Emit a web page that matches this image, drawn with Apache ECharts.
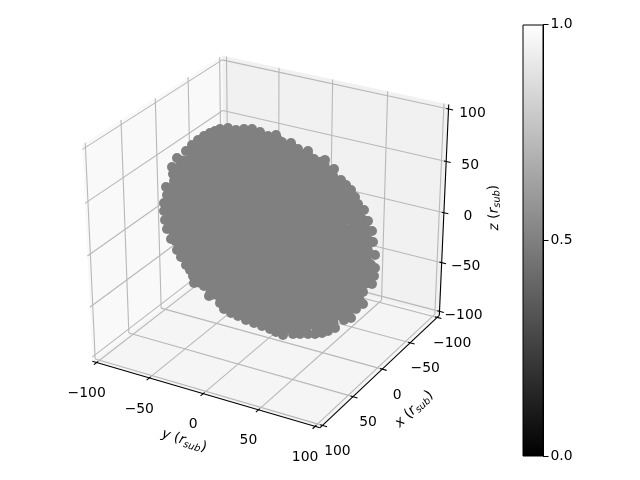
<!DOCTYPE html>
<html>
<head>
<meta charset="utf-8">
<style>
  html, body { margin: 0; padding: 0; background: #fff; }
  #chart { width: 640px; height: 480px; }
</style>
<script src="https://cdn.jsdelivr.net/npm/echarts@6/dist/echarts.min.js"></script>
</head>
<body>
<div id="chart"></div>
<script>
const tickValues = [-100, -50, 0, 50, 100];
const colorbarTicks = [0, 0.5, 1];

// silhouette of the point cloud in the view plane [u, v]
const rimPoints = [
  [-49,105],[-41,106],[-33,104],[-25,105],[-17,105],[-9,102],[-1,98],[7,99],[13,92],[22,91],
  [29,85],[39,83],[45,75],[56,74],[65,65],[72,54],[77,49],[82,44],[86,37],[89,30],
  [95,24],[99,13],[103,3],[104,-8],[106,-21],[106,-34],[105,-42],[103,-50],[94,-58],[94,-70],
  [87,-75],[82,-84],[75,-86],[66,-94],[59,-97],[53,-99],[46,-100],[39,-100],[31,-100],[24,-100],
  [14,-101],[7,-98],[1,-95],[-7,-92],[-15,-89],[-23,-86],[-31,-82],[-38,-79],[-45,-75],[-49,-69],
  [-60,-62],[-65,-52],[-75,-49],[-76,-42],[-79,-36],[-83,-31],[-88,-23],[-92,-16],[-98,-5],[-102,5],
  [-104,14],[-105,23],[-105,31],[-102,39],[-103,47],[-95,53],[-96,60],[-97,67],[-92,76],[-83,83],
  [-77,89],[-71,94],[-65,98],[-59,101],[-54,103]
];

// just inside the silhouette
const outerBandPoints = [
  [-39,100],[-24,99],[-8,96],[7,93],[21,86],[37,78],[53,70],[68,51],[77,41],[84,28],
  [93,12],[98,-8],[100,-32],[97,-47],[88,-66],[77,-79],[62,-88],[50,-93],[29,-94],[13,-95],
  [1,-89],[-14,-84],[-29,-77],[-42,-71],[-56,-58],[-70,-46],[-74,-34],[-83,-22],[-92,-5],[-98,13],
  [-99,29],[-97,44],[-90,56],[-86,71],[-72,84],[-61,92],[-51,97]
];

// next band in
const bandPoints = [
  [-43,91],[-29,90],[-15,91],[-1,85],[11,80],[25,74],[39,65],[57,57],[67,43],[75,32],
  [83,21],[90,3],[92,-18],[91,-37],[82,-50],[76,-65],[65,-75],[51,-84],[34,-87],[21,-87],
  [6,-85],[-6,-80],[-20,-75],[-33,-69],[-43,-60],[-57,-45],[-66,-37],[-72,-27],[-80,-14],[-89,4],
  [-91,20],[-89,34],[-83,46],[-84,58],[-72,72],[-62,82],[-51,88]
];

// inside of the cloud, row by row
const coreRowV = [72, 54, 36, 18, 0, -18, -36, -54, -72];
const coreRowU = [
  [-51,-33,-15,3],
  [-69,-51,-33,-15,3,21,39],
  [-75,-57,-39,-21,-3,15,33,51,57],
  [-77,-59,-41,-23,-5,13,31,49,67],
  [-75,-57,-39,-21,-3,15,33,51,69],
  [-65,-47,-29,-11,7,25,43,61,79],
  [-54,-36,-18,0,18,36,54,72],
  [-41,-23,-5,13,31,49,67],
  [-20,-2,16,34,52]
];

const fontFamily = '"DejaVu Sans"';
const fontSize = 13.9;
const EDGE = 104.17;

// same view as the 3d axes, cube box
const BOX = 0.55, DIST = 10, SX = 2280, SY = 2120, OX = 269, OY = 234;
const ELEV = 28.5 * Math.PI / 180, AZIM = 29.7 * Math.PI / 180;
const sinE = Math.sin(ELEV), cosE = Math.cos(ELEV);
const sinA = Math.sin(AZIM), cosA = Math.cos(AZIM);

function project(x, y, z) {
  const qx = x / 100 * BOX, qy = y / 100 * BOX, qz = z / 100 * BOX;
  const u = -sinA * qx + cosA * qy;
  const v = -sinE * cosA * qx - sinE * sinA * qy + cosE * qz;
  const w = cosE * cosA * qx + cosE * sinA * qy + sinE * qz;
  const d = DIST - w;
  return [u / d * SX, v / d * SY];
}

function segment(a, b) {
  return { coords: [project(a[0], a[1], a[2]), project(b[0], b[1], b[2])] };
}

// walls and floor
const panes = [
  { color: '#f1f1f1', corners: [[-EDGE,-EDGE,-EDGE],[-EDGE,EDGE,-EDGE],[-EDGE,EDGE,EDGE],[-EDGE,-EDGE,EDGE]] },
  { color: '#f9f9f9', corners: [[-EDGE,-EDGE,-EDGE],[EDGE,-EDGE,-EDGE],[EDGE,-EDGE,EDGE],[-EDGE,-EDGE,EDGE]] },
  { color: '#f5f5f5', corners: [[-EDGE,-EDGE,-EDGE],[EDGE,-EDGE,-EDGE],[EDGE,EDGE,-EDGE],[-EDGE,EDGE,-EDGE]] }
];

const gridLines = [], tickLines = [], tickLabels = [];
tickValues.forEach(function (t) {
  gridLines.push(segment([t,EDGE,-EDGE], [t,-EDGE,-EDGE]), segment([t,-EDGE,-EDGE], [t,-EDGE,EDGE]));
  gridLines.push(segment([EDGE,t,-EDGE], [-EDGE,t,-EDGE]), segment([-EDGE,t,-EDGE], [-EDGE,t,EDGE]));
  gridLines.push(segment([-EDGE,EDGE,t], [-EDGE,-EDGE,t]), segment([-EDGE,-EDGE,t], [EDGE,-EDGE,t]));

  tickLines.push(segment([t,EDGE-2,-EDGE], [t,EDGE+4,-EDGE]));
  tickLines.push(segment([EDGE-2,t,-EDGE], [EDGE+4,t,-EDGE]));
  tickLines.push(segment([-EDGE,EDGE-2,t], [-EDGE,EDGE+4,t]));

  const text = String(t).replace('-', '\u2212');
  tickLabels.push({ value: project(t, EDGE, -EDGE), label: { formatter: text, offset: [15, 26] } });
  tickLabels.push({ value: project(EDGE, t, -EDGE), label: { formatter: text, offset: [-10, 31] } });
  tickLabels.push({ value: project(-EDGE, EDGE, t), label: { formatter: text, offset: [24, 4] } });
});

const axisLines = [
  segment([EDGE,-EDGE,-EDGE], [EDGE,EDGE,-EDGE]),
  segment([EDGE,EDGE,-EDGE], [-EDGE,EDGE,-EDGE]),
  segment([-EDGE,EDGE,-EDGE], [-EDGE,EDGE,EDGE])
];

function mathLabel(name) {
  return '{i|' + name + '} ({i|r}{s|sub})';
}

// rotated labels turn their offset too, so shift the anchor instead
function shifted(p, dx, dy) {
  return [p[0] + dx, p[1] - dy];
}

const axisNames = [
  { value: shifted(project(EDGE, 0, -EDGE), -19, 47), label: { formatter: mathLabel('y'), rotate: -18 } },
  { value: shifted(project(0, EDGE, -EDGE), 32, 40), label: { formatter: mathLabel('x'), rotate: 43 } },
  { value: shifted(project(-EDGE, EDGE, 0), 50, -5), label: { formatter: mathLabel('z'), rotate: 92 } }
];

const corePoints = [];
coreRowV.forEach(function (v, i) {
  coreRowU[i].forEach(function (u) { corePoints.push([u, v]); });
});

const chart = echarts.init(document.getElementById('chart'));

function textSeries(data, z) {
  return {
    type: 'scatter',
    data: data,
    symbolSize: 0,
    silent: true,
    z: z,
    itemStyle: { color: 'transparent', opacity: 1 },
    label: {
      show: true,
      position: 'inside',
      color: '#000',
      textBorderWidth: 0,
      fontFamily: fontFamily,
      fontSize: fontSize,
      rich: {
        i: { fontFamily: fontFamily, fontSize: fontSize, fontStyle: 'italic', color: '#000', textBorderWidth: 0 },
        s: { fontFamily: fontFamily, fontSize: 9.7, fontStyle: 'italic', color: '#000', textBorderWidth: 0, verticalAlign: 'bottom', padding: [7, 0, 0, 0] }
      }
    }
  };
}

function lineSeries(data, color, width, z) {
  return {
    type: 'lines',
    coordinateSystem: 'cartesian2d',
    data: data,
    silent: true,
    z: z,
    lineStyle: { color: color, width: width, opacity: 1, curveness: 0 }
  };
}

function cloudSeries(data, size) {
  return { type: 'scatter', data: data, symbolSize: size, silent: true, z: 4, itemStyle: { color: '#808080', opacity: 1 } };
}

chart.setOption({
  animation: false,
  grid: [
    { left: 0, top: 0, width: 640, height: 480 },
    { left: 522.5, top: 24.5, width: 21, height: 432 }
  ],
  xAxis: [
    { type: 'value', gridIndex: 0, min: -OX, max: 640 - OX, show: false },
    { type: 'category', gridIndex: 1, data: ['colorbar'], show: false }
  ],
  yAxis: [
    { type: 'value', gridIndex: 0, min: OY - 480, max: OY, show: false },
    {
      type: 'value',
      gridIndex: 1,
      position: 'right',
      min: colorbarTicks[0],
      max: colorbarTicks[2],
      interval: colorbarTicks[1],
      splitLine: { show: false },
      axisLine: { show: true, lineStyle: { color: '#000', width: 1 } },
      axisTick: { show: true, length: 5, lineStyle: { color: '#000', width: 1 } },
      axisLabel: {
        color: '#000',
        margin: 7,
        fontFamily: fontFamily,
        fontSize: fontSize,
        formatter: function (v) { return v.toFixed(1); }
      }
    }
  ],
  series: [
    {
      type: 'custom',
      data: panes.map(function (p, i) { return i; }),
      silent: true,
      z: 1,
      renderItem: function (params, api) {
        const pane = panes[api.value(0)];
        return {
          type: 'polygon',
          shape: {
            points: pane.corners.map(function (c) {
              return api.coord(project(c[0], c[1], c[2]));
            })
          },
          style: { fill: pane.color }
        };
      }
    },
    lineSeries(gridLines, '#b8b8b8', 1.1, 2),
    lineSeries(axisLines, '#000', 1.1, 3),
    lineSeries(tickLines, '#000', 1.1, 3),
    cloudSeries(corePoints, 28),
    cloudSeries(bandPoints, 24),
    cloudSeries(outerBandPoints, 15),
    cloudSeries(rimPoints, 10),
    textSeries(tickLabels, 5),
    textSeries(axisNames, 5),
    {
      type: 'bar',
      xAxisIndex: 1,
      yAxisIndex: 1,
      data: [colorbarTicks[2]],
      barWidth: '100%',
      silent: true,
      itemStyle: {
        borderColor: '#000',
        borderWidth: 1,
        color: new echarts.graphic.LinearGradient(0, 0, 0, 1, [
          { offset: 0, color: '#fff' },
          { offset: 1, color: '#000' }
        ])
      }
    }
  ]
});
</script>
</body>
</html>
